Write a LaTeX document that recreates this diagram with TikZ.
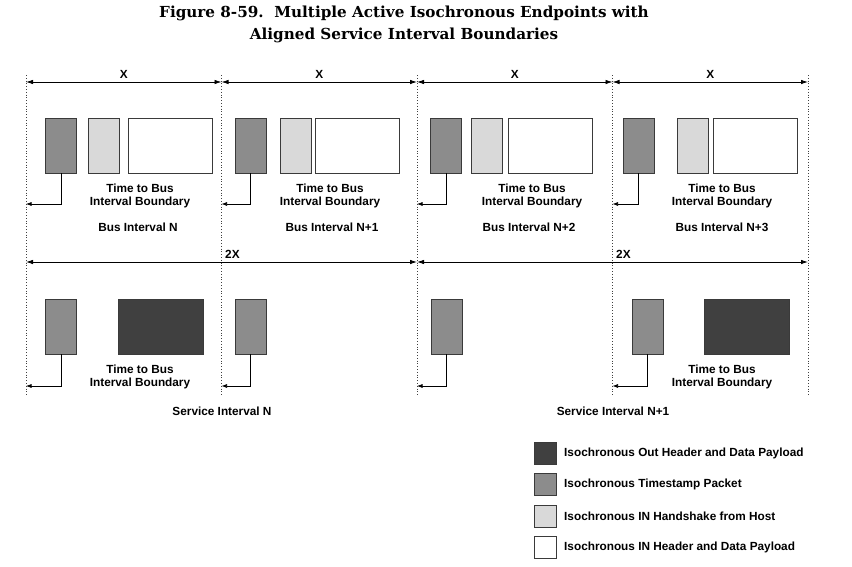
\documentclass[tikz,border=0pt]{standalone}
\usepackage{fontspec}
\setmainfont{Liberation Sans}
\newfontfamily\titlefont{DejaVu Serif}
\usetikzlibrary{arrows.meta}
\definecolor{outgray}{HTML}{404040}
\definecolor{tsgray}{HTML}{8C8C8C}
\definecolor{hsgray}{HTML}{D9D9D9}
\definecolor{edgegray}{HTML}{3A3A3A}
\tikzset{
    pkt-box/.style = {draw=edgegray, line width=0.8pt, rectangle, inner sep=0pt, minimum height=55pt},
    ts-box/.style = {pkt-box, fill=tsgray, minimum width=31pt},
    hs-box/.style = {pkt-box, fill=hsgray, minimum width=31pt},
    in-box/.style = {pkt-box, fill=white, minimum width=84pt},
    out-box/.style = {pkt-box, fill=outgray, minimum width=85pt},
    key-box/.style = {draw=edgegray, line width=0.8pt, rectangle, inner sep=0pt, minimum width=22pt, minimum height=22pt},
    pkt-label/.style = {align=center, font=\bfseries\fontsize{11.8}{13}\selectfont, inner sep=0pt},
    fig-title/.style = {align=center, font=\titlefont\bfseries\fontsize{15.2}{22}\selectfont},
    bound-line/.style = {draw=black!75, line width=0.8pt, dotted},
    dim-arrow/.style = {line width=0.8pt, {Latex[length=7pt,width=4.5pt]}-{Latex[length=7pt,width=4.5pt]}},
    link/.style = {line width=0.6pt, -{Latex[length=5.5pt,width=4pt]}},
}

\begin{document}
\begin{tikzpicture}[x=1pt, y=-1pt]
\useasboundingbox (0,0) rectangle (852,566);
\node[fig-title] (title) at (404,24) {Figure 8-59.\ \ Multiple Active Isochronous Endpoints with\\Aligned Service Interval Boundaries};

\foreach \b/\x in {0/26, 1/221.5, 2/417, 3/612.5, 4/808} {
    \coordinate (top\b) at (\x,75);
    \coordinate (bot\b) at (\x,395);
    \coordinate (dx\b) at (\x,82);
    \coordinate (dxx\b) at (\x,262);
    \coordinate (tb\b) at (\x,204);
    \coordinate (sb\b) at (\x,386);
    \draw[bound-line] (top\b) -- (bot\b);
}

\foreach \a/\b in {0/1, 1/2, 2/3, 3/4}
    \draw[dim-arrow] (dx\a) -- node[above, font=\bfseries\fontsize{11.8}{13}\selectfont] {X} (dx\b);
\draw[dim-arrow] (dxx0) -- node[above right, font=\bfseries\fontsize{11.8}{13}\selectfont] {2X} (dxx2);
\draw[dim-arrow] (dxx2) -- node[above right, font=\bfseries\fontsize{11.8}{13}\selectfont] {2X} (dxx4);

\foreach \i/\a/\ts/\hs/\inp/\tx/\bx/\nm in {1/0/61.2/103.5/170/140/138/N, 2/1/250.5/295.5/357.5/330/332/N+1, 3/2/446.2/487/550/532/529/N+2, 4/3/638.5/693/755.5/722/722/N+3} {
    \node[ts-box] (ts\i) at (\ts,145.5) {};
    \node[hs-box] (hs\i) at (\hs,145.5) {};
    \node[in-box] (in\i) at (\inp,145.5) {};
    \draw[link] (ts\i.south) |- (tb\a);
    \node[pkt-label] (tt\i) at (\tx,195.5) {Time to Bus\\Interval Boundary};
    \node[pkt-label] (bi\i) at (\bx,227) {Bus Interval \nm};
}

\foreach \i/\a/\x in {1/0/61.2, 2/1/250.5, 3/2/446.5, 4/3/647.5} {
    \node[ts-box] (sts\i) at (\x,326.5) {};
    \draw[link] (sts\i.south) |- (sb\a);
}
\node[out-box] (out1) at (160.5,326.5) {};
\node[out-box] (out2) at (747,326.5) {};
\node[pkt-label] (stt1) at (140,377) {Time to Bus\\Interval Boundary};
\node[pkt-label] (stt2) at (722,377) {Time to Bus\\Interval Boundary};
\node[pkt-label] (si1) at (222,411) {Service Interval N};
\node[pkt-label] (si2) at (613,411) {Service Interval N+1};

\foreach \j/\y/\col/\txt in {1/453/outgray/Isochronous Out Header and Data Payload, 2/484/tsgray/Isochronous Timestamp Packet, 3/516/hsgray/Isochronous IN Handshake from Host, 4/547/white/Isochronous IN Header and Data Payload} {
    \node[key-box, fill=\col] (key\j) at (545,\y) {};
    \node[pkt-label, anchor=west] (keytxt\j) at (564,\y) {\txt};
}
\end{tikzpicture}
\end{document}
